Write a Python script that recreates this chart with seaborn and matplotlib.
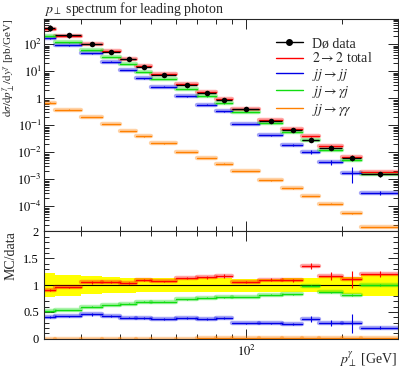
import numpy as np
import pandas as pd
import seaborn as sns
import matplotlib.pyplot as plt
from matplotlib.lines import Line2D
from matplotlib.ticker import FixedLocator, FuncFormatter, NullFormatter, LogLocator, MultipleLocator

# bin edges of the leading photon pT spectrum [GeV]
edges = [23, 25, 30, 35, 40, 45, 50, 60, 70, 80, 90, 110, 130, 150, 170, 200, 230, 300]

# D0 data [pb/GeV] and relative uncertainty
data = [410, 220, 102, 53, 28.5, 14, 7.3, 3.1, 1.53, 0.84, 0.39, 0.145,
        0.067, 0.029, 0.0145, 0.0062, 0.00154]
data_err = [0.225, 0.195, 0.165, 0.15, 0.14, 0.13, 0.125, 0.12, 0.125, 0.125,
            0.12, 0.12, 0.13, 0.13, 0.15, 0.16, 0.2]

# MC predictions [pb/GeV]
total = [373, 210.5, 107.1, 56.3, 29.55, 15.3, 7.80, 3.50, 1.75, 0.983, 0.413,
         0.160, 0.0732, 0.0394, 0.0169, 0.00685, 0.00186]
jj_jj = [166, 91.5, 46.2, 22.7, 11.1, 5.47, 2.67, 1.19, 0.574, 0.328, 0.112,
         0.042, 0.0188, 0.0106, 0.00432, 0.00177, 0.000316]
jj_gj = [209, 117.5, 60.8, 33.2, 18.6, 9.65, 5.03, 2.29, 1.17, 0.647, 0.303,
         0.119, 0.0553, 0.0287, 0.0125, 0.00508, 0.00155]
jj_gg = [0.69, 0.38, 0.20, 0.112, 0.063, 0.039, 0.0215, 0.0105, 0.0062, 0.0038,
         0.0020, 0.00092, 0.00046, 0.00024, 0.000126, 0.000055, 0.0000175]

# MC relative stat. errors
total_err = [0.02, 0.015, 0.03, 0.02, 0.015, 0.02, 0.015, 0.02, 0.025, 0.025,
             0.015, 0.02, 0.025, 0.045, 0.06, 0.15, 0.04]
jj_jj_err = [0.05, 0.03, 0.07, 0.04, 0.03, 0.04, 0.04, 0.04, 0.05, 0.06, 0.04,
             0.04, 0.06, 0.17, 0.2, 0.6, 0.15]
jj_gj_err = [0.01, 0.01, 0.01, 0.01, 0.01, 0.01, 0.01, 0.01, 0.01, 0.01, 0.01,
             0.01, 0.01, 0.015, 0.015, 0.02, 0.02]
jj_gg_err = [0.02] * 17

labels = [r'$2 \to 2$ total', r'$jj \to jj$', r'$jj \to \gamma j$', r'$jj \to \gamma\gamma$']
colors = ['#ff0000', '#0000e6', '#10dd10', '#ff8000']


def main():
    sns.set_theme(style="ticks")
    plt.rcParams['font.family'] = ['Liberation Serif', 'DejaVu Serif']
    plt.rcParams['mathtext.fontset'] = 'stix'

    e = np.array(edges, dtype=float)
    lo, hi = e[:-1], e[1:]
    cen = 0.5 * (lo + hi)
    d = np.array(data)
    de = np.array(data_err)

    mc_vals = [total, jj_jj, jj_gj, jj_gg]
    mc_errs = [total_err, jj_jj_err, jj_gj_err, jj_gg_err]

    rows = []
    for name, vals in zip(labels, mc_vals):
        for i, v in enumerate(vals):
            r = v / d[i]
            rows.append(dict(proc=name, bin=i, x=lo[i], y=v, ratio=r))
            rows.append(dict(proc=name, bin=i, x=hi[i], y=v, ratio=r))
    df = pd.DataFrame(rows)
    pal = dict(zip(labels, colors))

    fig = plt.figure(figsize=(3.99, 3.72), dpi=100)
    ax = fig.add_axes([0.1103, 0.3777, 0.886, 0.5712])
    axr = fig.add_axes([0.1103, 0.0895, 0.886, 0.2882])

    # ---- main panel
    sns.lineplot(data=df, x='x', y='y', hue='proc', units='bin', estimator=None,
                 palette=pal, lw=3.2, alpha=0.35, legend=False, sort=False, ax=ax)
    sns.lineplot(data=df, x='x', y='y', hue='proc', units='bin', estimator=None,
                 palette=pal, lw=1.0, legend=False, sort=False, ax=ax)
    for vals, errs, c in zip(mc_vals, mc_errs, colors):
        v = np.array(vals)
        ax.errorbar(cen, v, yerr=v * np.array(errs), fmt='none', ecolor=c, elinewidth=0.8)

    ax.errorbar(cen, d, xerr=[cen - lo, hi - cen], yerr=d * de, fmt='none',
                ecolor='black', elinewidth=1.0, zorder=5)
    sns.scatterplot(x=cen, y=d, color='black', s=16, edgecolor='black', linewidth=0,
                    zorder=6, ax=ax)

    ax.set_xscale('log')
    ax.set_yscale('log')
    ax.set_xlim(23, 300)
    ax.set_ylim(1.17e-5, 865)
    ax.set_xlabel('')
    ax.set_ylabel(r'$\mathrm{d}\sigma/\mathrm{d}p_\perp^\gamma/\mathrm{d}y^\gamma$ [pb/GeV]',
                  loc='top', fontsize=8)
    ax.yaxis.set_label_coords(-0.077, 1.0)
    ax.set_title(r'$p_\perp$ spectrum for leading photon', loc='left', fontsize=10, pad=4)
    ax.yaxis.set_major_locator(FixedLocator([1e-4, 1e-3, 1e-2, 1e-1, 1, 10, 100]))
    ax.yaxis.set_major_formatter(FuncFormatter(
        lambda v, p: '1' if abs(v - 1) < 1e-9 else r'$10^{%d}$' % round(np.log10(v))))
    ax.yaxis.set_minor_locator(LogLocator(base=10, subs=np.arange(2, 10), numticks=20))
    ax.yaxis.set_minor_formatter(NullFormatter())
    ax.xaxis.set_major_formatter(NullFormatter())
    ax.xaxis.set_minor_formatter(NullFormatter())

    handles = [Line2D([], [], color='black', marker='o', markersize=4, lw=1.0)]
    handles += [Line2D([], [], color=c, lw=1.0) for c in colors]
    ax.legend(handles, ['Dø data'] + labels, loc='upper left',
              bbox_to_anchor=(0.655, 0.915), frameon=False, fontsize=10,
              handlelength=2.0, handletextpad=0.6, labelspacing=0.1,
              borderpad=0, borderaxespad=0)

    # ---- ratio panel
    ylo = np.append(1 - de, 1 - de[-1])
    yhi = np.append(1 + de, 1 + de[-1])
    axr.fill_between(e, ylo, yhi, step='post', color='#ffff00', lw=0, zorder=1)
    axr.axhline(1.0, color='black', lw=0.8, zorder=2)

    sns.lineplot(data=df, x='x', y='ratio', hue='proc', units='bin', estimator=None,
                 palette=pal, lw=3.2, alpha=0.35, legend=False, sort=False, ax=axr)
    sns.lineplot(data=df, x='x', y='ratio', hue='proc', units='bin', estimator=None,
                 palette=pal, lw=1.0, legend=False, sort=False, ax=axr)
    for vals, errs, c in zip(mc_vals, mc_errs, colors):
        r = np.array(vals) / d
        axr.errorbar(cen, r, yerr=r * np.array(errs), fmt='none', ecolor=c, elinewidth=0.8)

    axr.set_xscale('log')
    axr.set_xlim(23, 300)
    axr.set_ylim(0, 2)
    axr.yaxis.set_major_locator(MultipleLocator(0.5))
    axr.yaxis.set_minor_locator(MultipleLocator(0.1))
    axr.yaxis.set_major_formatter(FuncFormatter(lambda v, p: '%g' % v))
    axr.xaxis.set_major_locator(FixedLocator([100]))
    axr.xaxis.set_major_formatter(FuncFormatter(lambda v, p: r'$10^{2}$'))
    axr.xaxis.set_minor_formatter(NullFormatter())
    axr.set_xlabel(r'$p_\perp^\gamma$ [GeV]', loc='right', fontsize=10)
    axr.xaxis.set_label_coords(1.0, -0.10)
    axr.set_ylabel('MC/data', loc='top', fontsize=10)
    axr.yaxis.set_label_coords(-0.075, 1.0)

    for a in (ax, axr):
        a.tick_params(which='both', direction='in', top=True, right=True,
                      labelsize=9, width=0.6, colors='black')
        a.tick_params(which='major', length=7)
        a.tick_params(which='minor', length=3.5)
        for s in a.spines.values():
            s.set_linewidth(0.8)
    ax.tick_params(axis='y', which='major', pad=1.5)

    fig.savefig('out.png', dpi=100)


if __name__ == '__main__':
    main()
